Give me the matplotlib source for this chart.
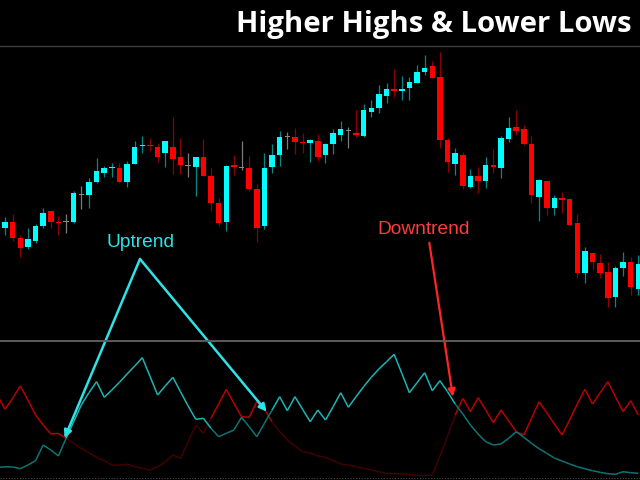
import numpy as np
import matplotlib
matplotlib.use("Agg")
import matplotlib.pyplot as plt
from matplotlib.collections import LineCollection
from matplotlib.lines import Line2D

# candle data (bars 1..84)
opens = [122.3, 128.3, 112, 103, 108.7, 124, 138.7, 128.3, 128, 128.3,
         155, 155, 168.3, 177.3, 181.7, 182, 168.3, 186, 204.3, 205.3,
         202.7, 196.7, 202.7, 192.7, 184.3, 183.3, 192.7, 174, 147.3, 128,
         185, 181.7, 182, 161, 124, 183, 195, 213.3, 212.7, 208.3,
         206.7, 209, 194.7, 205.7, 215.3, 219.3, 217.3, 214, 238, 242.3,
         254, 260.7, 259, 261.7, 267.3, 277.7, 284.3, 272.7, 210, 185.7,
         195, 163.3, 174, 169.3, 184.7, 181.7, 211, 223.3, 220.7, 206,
         153.3, 169, 141.7, 152.3, 151, 127.3, 77.3, 97.3, 86.7, 78,
         53.3, 81.7, 88, 61]
highs = [133, 136, 115, 122.3, 125.7, 142.3, 138.7, 134, 136, 159.3,
         164.3, 171.7, 191.7, 184.3, 187, 186.7, 189.3, 209, 214, 211.7,
         207.3, 209, 232.7, 211.7, 196.7, 192.7, 210.7, 182.3, 152.3, 185,
         195, 209, 194.3, 166, 196.7, 206, 219.3, 217.7, 222.3, 217.3,
         211.3, 215.7, 207.3, 220.7, 229.3, 222.7, 240, 246, 250, 265,
         266.7, 281, 274, 272.7, 285, 295, 289, 298.3, 212.3, 202.3,
         197.7, 180.7, 183.3, 192.7, 200.7, 214, 232.7, 240, 225, 214,
         171, 169, 155, 158.3, 151, 135.7, 103.3, 97.3, 96, 88.3,
         84, 97.7, 93.3, 95]
lows = [115, 109, 93, 100.7, 106.7, 122.3, 122.3, 115, 116.7, 127.3,
        140.7, 141.7, 167.3, 172.7, 172.7, 167.3, 162.7, 186, 196.7, 199.3,
        187.7, 183.3, 175.7, 175.7, 172.7, 154.3, 174, 138.7, 124.3, 119.3,
        175, 180, 159.3, 108.3, 121, 177.3, 184, 200.7, 196, 196.7,
        188.3, 189, 187.3, 195.7, 208.7, 202.3, 213.3, 212.7, 233.3, 236.7,
        246.7, 252.7, 250, 250, 266.7, 275, 271.7, 201.7, 178.3, 175,
        161, 161.7, 156.7, 162.3, 177.3, 172.3, 208.3, 215, 205, 147.3,
        129.3, 135, 135, 137.3, 125, 71.7, 66.7, 80, 71.7, 43.3,
        43.3, 74, 55, 55]
closes = [128.3, 111.7, 102, 110.7, 124.3, 137.3, 128.3, 126.7, 128, 156.7,
          155, 168.3, 179, 182, 183.3, 168.3, 186.3, 202.7, 205.3, 204.3,
          193.3, 209, 191, 184.7, 184.3, 192.7, 174, 147.3, 126.7, 184,
          183.3, 181.7, 160.7, 122.3, 182, 195, 212.7, 213.3, 208.3, 206.7,
          210, 193.3, 205.7, 217.3, 220.7, 219.3, 215.3, 240, 242.3, 256,
          260.7, 259, 260.7, 268, 278.3, 282.3, 272.3, 210, 187.7, 196.7,
          164, 174, 169.3, 185, 183, 211.7, 222, 218.7, 205.7, 155,
          170, 141.7, 152.3, 150.3, 125, 77.3, 99, 88, 77.3, 52.3,
          82.3, 88, 62.7, 85.7]

# indicator lines, first value is the bar just left of the chart
bulls_line = [13.3,
              13.3, 13.0, 11.3, 15.0, 19.3, 35.0, 30.0, 24.0, 41.7, 58.3,
              75.0, 87.3, 98.3, 82.7, 90.0, 97.7, 106.0, 114.0, 122.3, 103.7,
              85.0, 94.0, 102.7, 88.3, 74.0, 60.7, 61.7, 51.7, 43.3, 46.7,
              50.0, 62.7, 53.3, 43.3, 56.7, 70.0, 83.3, 69.3, 83.3, 70.7,
              58.3, 70.0, 60.0, 73.3, 87.3, 72.7, 83.3, 93.3, 102.7, 111.0,
              118.3, 125.7, 106.7, 87.3, 97.3, 107.3, 89.3, 99.3, 88.3, 76.0,
              66.0, 55.0, 46.0, 38.3, 35.0, 36.0, 41.7, 48.3, 42.7, 36.7,
              31.3, 26.7, 22.0, 19.0, 16.0, 13.3, 11.3, 9.3, 7.7, 6.3,
              5.7, 8.3, 7.3, 6.7]
bears_line = [84.7,
              70.7, 81.7, 94.0, 80.0, 65.0, 55.0, 46.0, 46.7, 41.7, 36.7,
              31.7, 27.3, 22.7, 19.3, 15.0, 14.7, 15.7, 13.3, 11.7, 10.0,
              13.3, 18.3, 25.0, 21.7, 38.3, 55.0, 46.7, 61.7, 76.0, 90.7,
              76.7, 63.3, 62.7, 78.3, 70.7, 58.3, 48.3, 40.0, 34.0, 28.3,
              27.3, 24.0, 22.7, 19.3, 16.0, 15.0, 13.3, 11.7, 10.0, 8.3,
              6.7, 6.3, 6.0, 5.7, 4.7, 4.3, 5.0, 24.0, 44.0, 65.0,
              81.7, 68.3, 82.3, 70.0, 57.3, 70.0, 59.3, 48.3, 45.0, 61.7,
              78.3, 67.3, 56.0, 45.0, 60.0, 76.0, 90.7, 76.0, 87.3, 98.3,
              83.3, 68.3, 79.3, 65.0]

o = np.array(opens)
h = np.array(highs)
l = np.array(lows)
c = np.array(closes)
x = np.arange(len(o))

fig = plt.figure(figsize=(6.4, 4.8), dpi=100, facecolor="black")
ax = fig.add_axes([0, 139 / 480, 1, 295 / 480])
ax2 = fig.add_axes([0, 0, 1, 139 / 480])
for a in (ax, ax2):
    a.set_facecolor("black")
    a.set_axis_off()
    a.set_xlim(-0.655, 83.22)
ax.set_ylim(9, 304)
ax2.set_ylim(0, 139)

body_col = np.where(c > o, "#00ffff", np.where(c < o, "#ff0000", "#8a8a8a"))
wick_col = np.where(c > o, "#0a8585", np.where(c < o, "#8c0000", "#7a7a7a"))

ax.vlines(x, l, h, colors=wick_col, lw=0.9, zorder=2)
ax.bar(x, np.maximum(np.abs(c - o), 0.9), bottom=np.minimum(o, c), width=0.72,
       color=body_col, linewidth=0, zorder=3)

# indicator
xi = np.arange(-1, len(o))
bu = np.array(bulls_line)
be = np.array(bears_line)
bull_up = (bu[:-1] + bu[1:]) > (be[:-1] + be[1:])


def segs(v):
    pts = np.column_stack([xi, v])
    return np.stack([pts[:-1], pts[1:]], axis=1)


lc_be = LineCollection(segs(be), colors=np.where(~bull_up, "#b80000", "#420000"), lw=1.1)
lc_bu = LineCollection(segs(bu), colors=np.where(bull_up, "#1cb4b4", "#0e7474"), lw=1.1)
ax2.add_collection(lc_be)
ax2.add_collection(lc_bu)

# separators
fig.add_artist(Line2D([0, 1], [434 / 480, 434 / 480], color="#3c3c3c", lw=1))
fig.add_artist(Line2D([0, 1], [139 / 480, 139 / 480], color="#5c5c5c", lw=1.4))
fig.add_artist(Line2D([0, 1], [2.5 / 480, 2.5 / 480], color="#4a4a4a", lw=0.8, ls=(0, (1, 1.5))))

# annotations
up_col = "#2ee3e6"
for tip in [(7.8, 42), (34.3, 68.3)]:
    ax2.annotate("", xy=tip, xytext=(140, 221), textcoords="figure pixels",
                 annotation_clip=False,
                 arrowprops=dict(arrowstyle="-|>", color=up_col, lw=1.8,
                                 mutation_scale=11, shrinkA=0, shrinkB=0))
ax2.annotate("", xy=(58.7, 83.3), xytext=(429.3, 237.3), textcoords="figure pixels",
             annotation_clip=False,
             arrowprops=dict(arrowstyle="-|>", color="#ff2424", lw=1.6,
                             mutation_scale=11, shrinkA=0, shrinkB=0))

fig.text(106 / 640, 232.7 / 480, "Uptrend", color=up_col, fontsize=13.8,
         family="Liberation Sans", ha="left", va="baseline")
fig.text(377 / 640, 245.7 / 480, "Downtrend", color="#ff3c3c", fontsize=13.8,
         family="Liberation Sans", ha="left", va="baseline")
fig.text(632 / 640, 448.3 / 480, "Higher Highs & Lower Lows", color="white",
         fontsize=21.1, fontweight="bold", family="Open Sans", ha="right", va="baseline")

fig.savefig("out.png", dpi=100, facecolor="black")
